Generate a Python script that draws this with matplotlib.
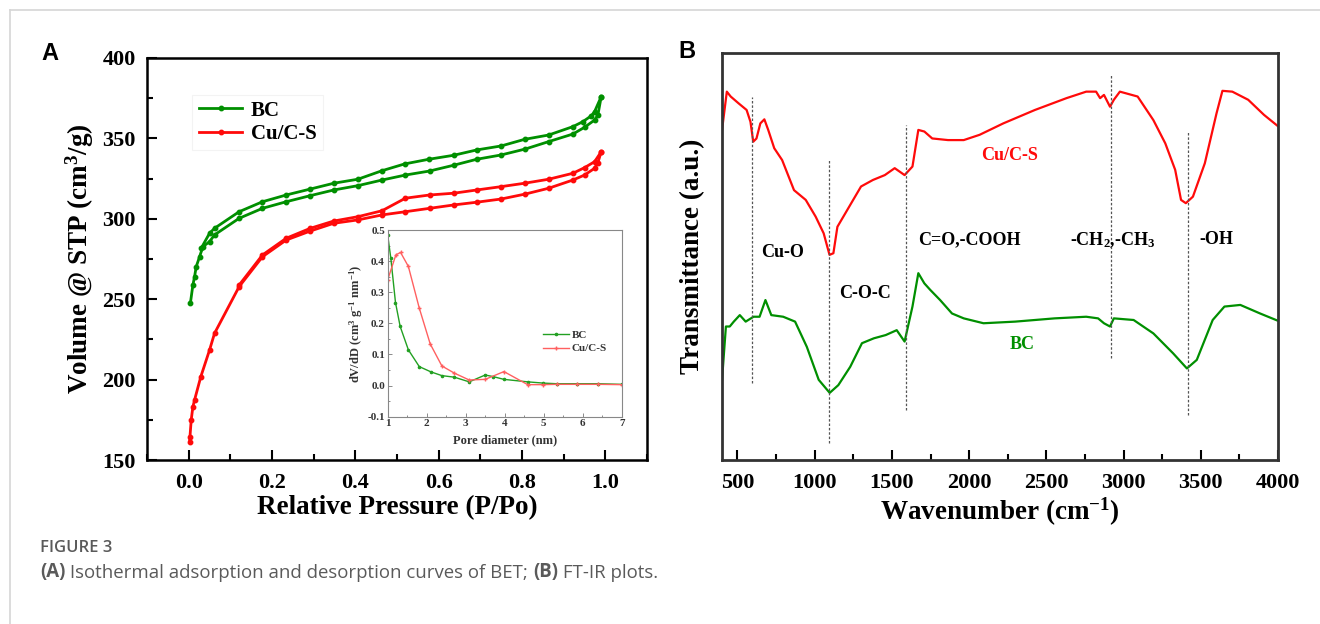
import matplotlib.pyplot as plt
import numpy as np
from matplotlib.lines import Line2D
from matplotlib.ticker import MultipleLocator

plt.rcParams['font.family'] = 'Liberation Serif'
plt.rcParams['font.weight'] = 'bold'
plt.rcParams['axes.labelweight'] = 'bold'
plt.rcParams['mathtext.fontset'] = 'custom'
plt.rcParams['mathtext.rm'] = 'Liberation Serif:bold'
plt.rcParams['mathtext.it'] = 'Liberation Serif:bold'
plt.rcParams['mathtext.bf'] = 'Liberation Serif:bold'
plt.rcParams['mathtext.default'] = 'rm'

GREEN = '#008f00'
RED = '#ff0a0a'

# ---- BET isotherms (panel A) ----
bc_ads_p = [0.004, 0.010, 0.014, 0.018, 0.026, 0.034, 0.050, 0.062, 0.121, 0.177, 0.234,
            0.292, 0.348, 0.406, 0.464, 0.520, 0.578, 0.636, 0.691, 0.750, 0.808, 0.864,
            0.922, 0.950, 0.974, 0.982, 0.990]
bc_ads_v = [247.5, 258.8, 264.0, 270.2, 276.4, 282.6, 285.8, 290.0, 300.3, 306.5, 310.6,
            314.4, 317.9, 320.6, 324.1, 327.2, 329.7, 333.3, 337.0, 339.7, 343.4, 348.0,
            352.7, 356.9, 361.4, 364.6, 376.0]
bc_des_p = [0.990, 0.974, 0.966, 0.946, 0.922, 0.864, 0.806, 0.750, 0.691, 0.636, 0.576,
            0.518, 0.464, 0.406, 0.348, 0.292, 0.234, 0.177, 0.121, 0.062, 0.050, 0.030]
bc_des_v = [376.0, 366.6, 364.0, 360.4, 357.3, 352.1, 349.4, 345.3, 342.8, 339.5, 337.0,
            334.1, 329.9, 324.6, 322.1, 318.5, 314.8, 310.6, 304.4, 294.1, 291.0, 281.7]

cu_ads_p = [0.002, 0.003, 0.006, 0.010, 0.014, 0.029, 0.050, 0.062, 0.121, 0.177, 0.234,
            0.292, 0.348, 0.406, 0.464, 0.520, 0.578, 0.636, 0.691, 0.750, 0.808, 0.864,
            0.922, 0.950, 0.974, 0.982, 0.990]
cu_ads_v = [161.4, 164.5, 174.9, 183.1, 187.3, 201.8, 218.4, 228.8, 257.8, 276.4, 286.8,
            292.4, 297.2, 299.3, 302.4, 304.4, 306.5, 308.6, 310.3, 312.3, 315.4, 319.0,
            324.1, 327.2, 331.4, 334.9, 341.7]
cu_des_p = [0.990, 0.974, 0.950, 0.922, 0.864, 0.806, 0.750, 0.691, 0.636, 0.578, 0.520,
            0.464, 0.406, 0.348, 0.292, 0.234, 0.177, 0.121]
cu_des_v = [341.7, 335.5, 331.8, 328.3, 324.6, 322.1, 320.0, 317.9, 315.9, 314.8, 312.8,
            305.0, 301.3, 298.6, 294.1, 287.9, 277.5, 258.8]

# ---- pore size distribution (inset) ----
bc_pore_d = [1.00, 1.08, 1.20, 1.32, 1.53, 1.81, 2.11, 2.39, 2.71, 3.09, 3.50, 3.70, 3.98,
             4.59, 4.99, 5.33, 5.85, 6.40, 7.00]
bc_pore_v = [0.484, 0.410, 0.267, 0.190, 0.115, 0.061, 0.044, 0.032, 0.027, 0.012, 0.034,
             0.029, 0.020, 0.012, 0.008, 0.006, 0.006, 0.006, 0.004]
cu_pore_d = [1.00, 1.21, 1.33, 1.53, 1.81, 2.09, 2.39, 2.71, 3.09, 3.50, 3.98, 4.59, 4.99,
             5.33, 5.85, 6.40, 7.00]
cu_pore_v = [0.340, 0.420, 0.428, 0.383, 0.249, 0.134, 0.063, 0.040, 0.018, 0.020, 0.045,
             0.003, 0.003, 0.004, 0.004, 0.004, 0.003]

# ---- FT-IR spectra (panel B), transmittance in arbitrary units ----
cu_wn = [400, 431, 456, 508, 559, 584, 602, 623, 648, 674, 699, 738, 789, 866, 942, 1006,
         1058, 1096, 1121, 1147, 1198, 1300, 1377, 1454, 1518, 1582, 1633, 1671, 1710,
         1761, 1863, 1965, 2068, 2221, 2426, 2630, 2758, 2822, 2848, 2873, 2912, 2937,
         2976, 3091, 3193, 3270, 3334, 3372, 3403, 3449, 3526, 3602, 3640, 3704, 3807,
         3909, 4000]
cu_tr = [81.1, 90.5, 89.3, 87.6, 86.0, 83.1, 78.2, 79.0, 82.7, 83.7, 81.1, 76.6, 73.7,
         66.3, 63.9, 59.8, 55.7, 50.4, 50.8, 57.3, 60.6, 67.2, 68.8, 70.0, 71.7, 70.0,
         72.1, 81.1, 80.7, 79.0, 78.6, 78.6, 79.9, 82.7, 86.0, 88.9, 90.5, 90.5, 88.9,
         89.7, 86.8, 88.5, 90.5, 89.3, 83.5, 77.8, 71.3, 63.9, 63.1, 64.7, 72.9, 85.2,
         90.7, 90.5, 88.5, 84.8, 82.0]
bc_wn = [400, 425, 450, 476, 515, 553, 604, 643, 681, 719, 796, 873, 949, 1026, 1097,
         1153, 1230, 1306, 1383, 1460, 1531, 1582, 1633, 1671, 1710, 1748, 1812, 1889,
         1965, 2093, 2298, 2554, 2758, 2835, 2873, 2912, 2937, 3065, 3193, 3321, 3410,
         3474, 3577, 3653, 3756, 3884, 4000]
bc_tr = [19.7, 32.8, 32.8, 34.0, 35.6, 34.0, 35.2, 35.2, 39.3, 35.6, 35.2, 34.0, 27.8,
         19.7, 16.5, 18.4, 22.9, 28.7, 29.9, 30.7, 31.9, 29.1, 37.7, 45.9, 43.4, 41.8,
         39.3, 36.0, 34.8, 33.6, 34.0, 34.8, 35.2, 34.8, 33.6, 32.8, 34.8, 34.4, 31.1,
         26.2, 22.5, 24.6, 34.4, 37.7, 38.1, 36.0, 34.2]
band_wn = [597, 1095, 1590, 2920, 3418]
band_top = [89.2, 73.7, 82.3, 94.6, 80.6]
band_bottom = [18.9, 4.2, 12.3, 25.1, 11.1]

fig = plt.figure(figsize=(13.2, 6.24), dpi=100)

# ---------- panel A ----------
ax = fig.add_axes([0.1114, 0.2628, 0.3788, 0.6443])
mk = dict(marker='o', markersize=3.2, linewidth=2.0)
ax.plot(bc_ads_p, bc_ads_v, color=GREEN, label='BC', **mk)
ax.plot(bc_des_p, bc_des_v, color=GREEN, **mk)
ax.plot(cu_ads_p, cu_ads_v, color=RED, label='Cu/C-S', **mk)
ax.plot(cu_des_p, cu_des_v, color=RED, **mk)
ax.set_xlim(-0.1, 1.1)
ax.set_ylim(150, 400)
ax.xaxis.set_major_locator(MultipleLocator(0.2))
ax.xaxis.set_minor_locator(MultipleLocator(0.1))
ax.yaxis.set_major_locator(MultipleLocator(50))
ax.yaxis.set_minor_locator(MultipleLocator(25))
ax.set_xticks([0, 0.2, 0.4, 0.6, 0.8, 1.0])
ax.set_xticklabels(['0.0', '0.2', '0.4', '0.6', '0.8', '1.0'])
ax.tick_params(which='both', direction='in', labelsize=16, width=1.5)
ax.tick_params(which='major', length=7)
ax.tick_params(which='minor', length=4)
ax.tick_params(axis='x', pad=9)
ax.tick_params(axis='y', pad=8)
for s in ax.spines.values():
    s.set_linewidth(1.8)
ax.set_xlabel('Relative Pressure (P/Po)', fontsize=19.5, labelpad=2)
ax.set_ylabel('Volume @ STP (cm$^3$/g)', fontsize=19.5, labelpad=5)
leg = ax.legend(loc='upper left', bbox_to_anchor=(0.07, 0.935), fontsize=15,
                handlelength=2.1, frameon=True, fancybox=False, borderpad=0.3,
                labelspacing=0.15, handletextpad=0.4)
leg.get_frame().set_edgecolor('#f0f0f0')
leg.get_frame().set_linewidth(0.8)

# inset
axi = fig.add_axes([0.2937, 0.3322, 0.1773, 0.2992])
axi.plot(bc_pore_d, bc_pore_v, color='#22a022', marker='o', markersize=1.6,
         linewidth=1.0, label='BC')
axi.plot(cu_pore_d, cu_pore_v, color='#ff6060', marker='+', markersize=2.5,
         linewidth=1.0, label='Cu/C-S')
axi.set_xlim(1, 7)
axi.set_ylim(-0.1, 0.5)
axi.xaxis.set_major_locator(MultipleLocator(1))
axi.xaxis.set_minor_locator(MultipleLocator(0.5))
axi.yaxis.set_major_locator(MultipleLocator(0.1))
axi.yaxis.set_minor_locator(MultipleLocator(0.05))
axi.set_yticks([-0.1, 0.0, 0.1, 0.2, 0.3, 0.4, 0.5])
axi.set_yticklabels(['-0.1', '0.0', '0.1', '0.2', '0.3', '0.4', '0.5'])
axi.tick_params(which='both', direction='in', labelsize=8, width=0.6,
                color='#777777', labelcolor='#333333', pad=2)
axi.tick_params(which='major', length=3)
axi.tick_params(which='minor', length=1.5)
for s in axi.spines.values():
    s.set_color('#888888')
    s.set_linewidth(0.8)
axi.set_xlabel('Pore diameter (nm)', fontsize=9, color='#333333', labelpad=4)
axi.set_ylabel('dV/dD (cm$^3$ g$^{-1}$ nm$^{-1}$)', fontsize=9, color='#333333',
               labelpad=2)
axi.legend(loc='center left', bbox_to_anchor=(0.62, 0.40), fontsize=8, frameon=False,
           handlelength=2.4, handletextpad=0.2, labelspacing=0.3, labelcolor='#333333')

# ---------- panel B ----------
bx = fig.add_axes([0.5470, 0.2628, 0.4212, 0.6523])
bx.plot(cu_wn, cu_tr, color=RED, linewidth=1.6)
bx.plot(bc_wn, bc_tr, color=GREEN, linewidth=1.6)
for w, t, b in zip(band_wn, band_top, band_bottom):
    bx.plot([w, w], [b, t], color='#555555', linewidth=0.9, dashes=(2, 1.5))
bx.set_xlim(400, 4000)
bx.set_ylim(0, 100)
bx.xaxis.set_major_locator(MultipleLocator(500))
bx.xaxis.set_minor_locator(MultipleLocator(250))
bx.set_yticks([])
bx.tick_params(which='both', direction='in', labelsize=16, width=1.5)
bx.tick_params(which='major', length=7)
bx.tick_params(which='minor', length=4)
bx.tick_params(axis='x', pad=9)
for s in bx.spines.values():
    s.set_linewidth(2.0)
    s.set_color('#333333')
bx.set_xlabel('Wavenumber (cm$^{-1}$)', fontsize=19.5, labelpad=2)
bx.set_ylabel('Transmittance (a.u.)', fontsize=19.5, labelpad=12)

kw = dict(fontsize=13, ha='center', va='center')
bx.text(790, 51.1, 'Cu-O', **kw)
bx.text(1328, 41.0, 'C-O-C', **kw)
bx.text(2003, 54.1, 'C=O,-COOH', **kw)
bx.text(2930, 54.1, '-CH$_2$,-CH$_3$', **kw)
bx.text(3598, 54.1, '-OH', **kw)
bx.text(2262, 74.9, 'Cu/C-S', color=RED, **kw)
bx.text(2340, 28.3, 'BC', color=GREEN, **kw)

# panel letters
fig.text(50 / 1320, 1 - 54 / 624, 'A', family='Liberation Sans', weight='bold',
         fontsize=17, ha='center', va='center')
fig.text(687 / 1320, 1 - 52 / 624, 'B', family='Liberation Sans', weight='bold',
         fontsize=17, ha='center', va='center')

# page border
fig.add_artist(Line2D([10 / 1320, 1], [1 - 10 / 624] * 2, color='#d6d6d6', linewidth=1.2))
fig.add_artist(Line2D([10 / 1320] * 2, [0, 1 - 10 / 624], color='#d6d6d6', linewidth=1.2))

# caption
cap = dict(family='Open Sans', color='#5a5a5a', va='bottom')
fig.text(40 / 1320, 1 - 556 / 624, 'FIGURE 3', weight='semibold', fontsize=12, **cap)
cap['fontsize'] = 13.4
t1 = fig.text(40 / 1320, 1 - 582 / 624, '(A)', weight='bold', **cap)
t2 = plt.annotate(' Isothermal adsorption and desorption curves of BET; ', xy=(1, 0),
                  xycoords=t1, annotation_clip=False, weight='normal', **cap)
t3 = plt.annotate('(B)', xy=(1, 0), xycoords=t2, annotation_clip=False, weight='bold', **cap)
plt.annotate(' FT-IR plots.', xy=(1, 0), xycoords=t3, annotation_clip=False,
             weight='normal', **cap)

fig.savefig('out.png', dpi=100)
